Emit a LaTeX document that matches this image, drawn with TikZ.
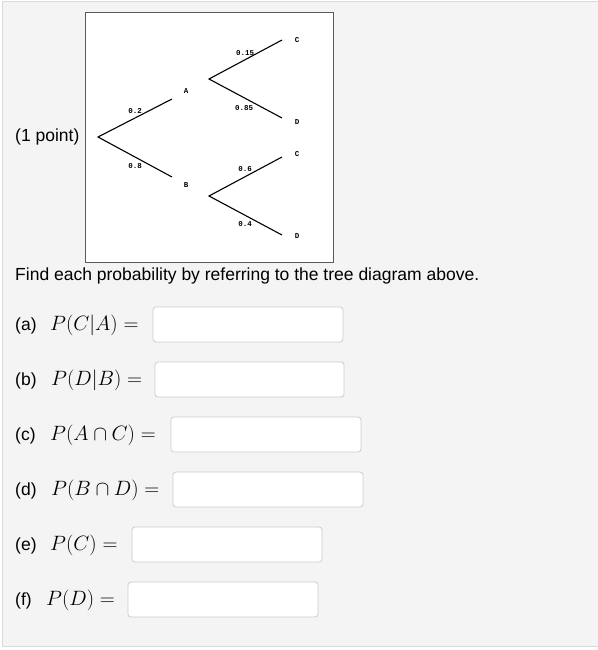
\documentclass[tikz,border=0pt]{standalone}
\usepackage{fontspec}
\setmainfont{Liberation Sans}
\newfontfamily\treefont{Liberation Mono}
\definecolor{panelbg}{HTML}{F4F4F4}
\definecolor{panelline}{HTML}{DADADA}
\definecolor{treeframe}{HTML}{5A5A5A}
\definecolor{boxline}{HTML}{CCCCCC}
\begin{document}
\begin{tikzpicture}[x=1pt,y=-1pt,
  txt/.style={anchor=base west,inner sep=0pt,font=\fontsize{17.5}{21}\selectfont},
  mth/.style={anchor=base west,inner sep=0pt,font=\fontsize{22}{26}\selectfont},
  ansbox/.style={draw=boxline,fill=white,rounded corners=3pt,line width=0.8pt},
  tlab/.style={inner sep=0pt,font=\treefont\bfseries\fontsize{7.5}{8}\selectfont},
  branch/.style={line width=1.1pt,black}]
\useasboundingbox (0,0) rectangle (597,650);
\fill[panelbg] (2,2) rectangle (600,646);
\draw[panelline,line width=1pt] (600,2) -- (2,2) -- (2,646) -- (600,646);
% tree frame
\draw[treeframe,fill=white,line width=1pt] (85,13) rectangle (333,262);
\coordinate (root) at (98,137);
\coordinate (aend) at (172,99);
\coordinate (bend) at (172,177);
\coordinate (aroot) at (209,79);
\coordinate (broot) at (209,196);
\coordinate (ac) at (282,40);
\coordinate (ad) at (282,118);
\coordinate (bc) at (282,157);
\coordinate (bd) at (282,235);
\draw[branch] (aend) -- (root) -- (bend);
\draw[branch] (ac) -- (aroot) -- (ad);
\draw[branch] (bc) -- (broot) -- (bd);
\node[tlab] (p02) at (135,111) {0.2};
\node[tlab] (p08) at (135,166) {0.8};
\node[tlab] (la) at (186,91) {A};
\node[tlab] (lb) at (186,185) {B};
\node[tlab] (p015) at (245,53) {0.15};
\node[tlab] (p085) at (244,108) {0.85};
\node[tlab] (p06) at (245,169) {0.6};
\node[tlab] (p04) at (245,224) {0.4};
\node[tlab] (lac) at (297,40) {C};
\node[tlab] (lad) at (297,122) {D};
\node[tlab] (lbc) at (297,154) {C};
\node[tlab] (lbd) at (297,236) {D};
% texts
\node[txt] (pt) at (15,142) {(1 point)};
\node[txt] (find) at (15,280) {Find each probability by referring to the tree diagram above.};
% questions
\node[txt] (qa) at (15,330) {(a)};
\node[mth] (ma) at (50,330) {$P(C|A)=$};
\draw[ansbox] (153,307) rectangle (343,342);
\node[txt] (qb) at (15,385) {(b)};
\node[mth] (mb) at (51,385) {$P(D|B)=$};
\draw[ansbox] (155,362) rectangle (344,397);
\node[txt] (qc) at (15,440) {(c)};
\node[mth] (mc) at (50,440) {$P(A\cap C)=$};
\draw[ansbox] (171,417) rectangle (361,452);
\node[txt] (qd) at (15,495) {(d)};
\node[mth] (md) at (51,495) {$P(B\cap D)=$};
\draw[ansbox] (173,472) rectangle (363,507);
\node[txt] (qe) at (15,550) {(e)};
\node[mth] (me) at (50,550) {$P(C)=$};
\draw[ansbox] (132,527) rectangle (322,562);
\node[txt] (qf) at (15,605) {(f)};
\node[mth] (mf) at (46,605) {$P(D)=$};
\draw[ansbox] (128,582) rectangle (318,617);
\end{tikzpicture}
\end{document}
